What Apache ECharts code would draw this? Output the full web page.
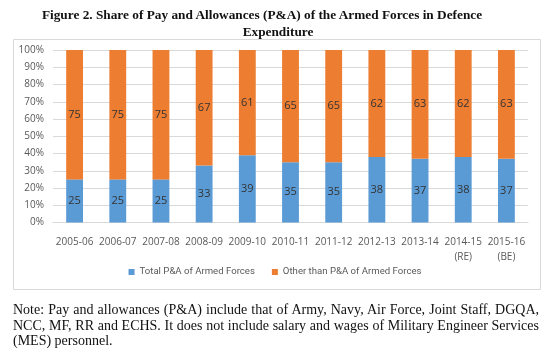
<!DOCTYPE html>
<html><head><meta charset="utf-8">
<script src="https://cdn.jsdelivr.net/npm/echarts@6/dist/echarts.min.js"></script>
<style>
html,body{margin:0;padding:0;background:#fff;}
#wrap{position:relative;width:550px;height:360px;overflow:hidden;}
#chart{position:absolute;left:0;top:0;width:550px;height:360px;}
.t{position:absolute;width:550px;text-align:center;font-family:"Liberation Serif","DejaVu Serif",serif;font-weight:bold;font-size:13.3px;line-height:17px;color:#111;white-space:nowrap;}
#t1{left:-13px;top:6px;}
#t2{left:3px;top:23px;}
#note{position:absolute;left:13px;top:302px;width:526px;text-align:justify;font-family:"Liberation Serif","DejaVu Serif",serif;font-size:14px;line-height:15.5px;color:#111;}
</style></head>
<body><div id="wrap">
<div id="chart"></div>
<div class="t" id="t1">Figure 2. Share of Pay and Allowances (P&amp;A) of the Armed Forces in Defence</div>
<div class="t" id="t2">Expenditure</div>
<div id="note">Note: Pay and allowances (P&amp;A) include that of Army, Navy, Air Force, Joint Staff, DGQA, NCC, MF, RR and ECHS. It does not include salary and wages of Military Engineer Services (MES) personnel.</div>
</div>
<script>
const categories = ["2005-06","2006-07","2007-08","2008-09","2009-10","2010-11","2011-12","2012-13","2013-14","2014-15\n(RE)","2015-16\n(BE)"];
const paValues = [25,25,25,33,39,35,35,38,37,38,37];
const otherValues = [75,75,75,67,61,65,65,62,63,62,63];
const seriesNames = ["Total P&A of Armed Forces","Other than P&A of Armed Forces"];
const yTicks = [0,10,20,30,40,50,60,70,80,90,100];

const chart = echarts.init(document.getElementById('chart'), null, {renderer:'canvas'});
const font = '"Open Sans","Noto Sans",sans-serif';
const lbl = {show:true, position:'inside', color:'#333', fontSize:11, fontFamily:font};
chart.setOption({
  animation:false,
  graphic:[{type:'rect', shape:{x:13.5,y:39.5,width:527,height:250}, style:{fill:'none', stroke:'#d9d9d9', lineWidth:1}}],
  grid:{left:53, right:22, top:50, bottom:137.5, containLabel:false},
  legend:{
    bottom:78, left:'center', itemWidth:6, itemHeight:6, itemGap:17, icon:'rect',
    textStyle:{fontFamily:'Roboto,"Open Sans",sans-serif', fontSize:9.6, color:'#595959'},
    data:seriesNames
  },
  xAxis:{type:'category', data:categories,
    axisLine:{lineStyle:{color:'#d9d9d9'}}, axisTick:{show:false},
    axisLabel:{fontFamily:font, fontSize:10, color:'#595959', margin:12, lineHeight:15, interval:0}},
  yAxis:{type:'value', min:0, max:100, interval:10,
    axisLine:{show:false}, axisTick:{show:false},
    splitLine:{lineStyle:{color:'#d9d9d9'}},
    axisLabel:{fontFamily:font, fontSize:10, color:'#595959', margin:9,
      formatter:function(v){return yTicks.indexOf(v)>=0 ? v+'%' : '';}}},
  series:[
    {name:seriesNames[0], type:'bar', stack:'a', data:paValues, barWidth:'39%', itemStyle:{color:'#5B9BD5'}, label:lbl},
    {name:seriesNames[1], type:'bar', stack:'a', data:otherValues, barWidth:'39%', itemStyle:{color:'#ED7D31'}, label:lbl}
  ]
});
</script>
</body></html>
